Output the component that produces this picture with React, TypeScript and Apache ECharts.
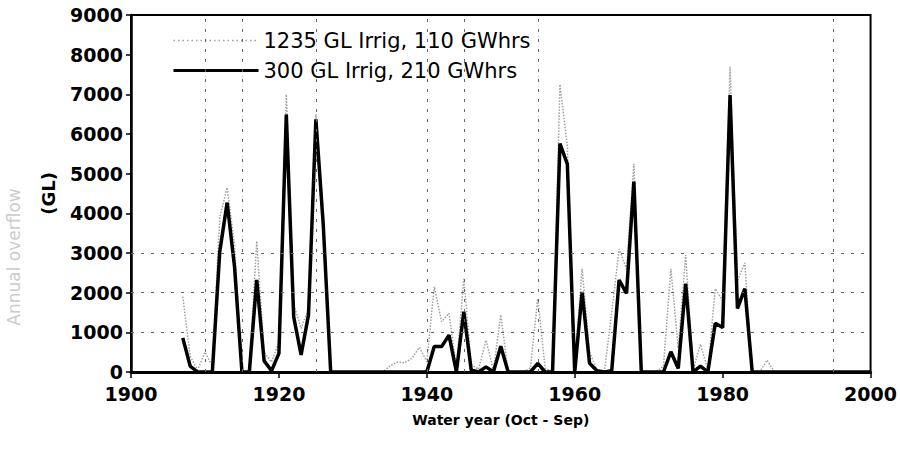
import React, { useEffect, useRef } from "react";
import * as echarts from "echarts";

const START_YEAR = 1900;

// 1235 GL Irrig, 110 GWhrs (grey dotted) — annual overflow (GL), 1900..2000
const irrig1235: (number | null)[] = [
  null, null, null, null, null, null, null, 1900, 400, 50, // 1900s
  500, 150, 3900, 4650, 3200, 0, 0, 3300, 500, 250, // 1910s
  750, 7000, 1700, 1100, 1600, 6500, 4000, 0, 0, 0, // 1920s
  0, 0, 0, 0, 0, 150, 250, 230, 350, 620, // 1930s
  260, 2150, 1270, 1480, 100, 2350, 190, 70, 800, 50, // 1940s
  1440, 0, 0, 0, 100, 1850, 100, 0, 7250, 5700, // 1950s
  200, 2600, 500, 50, 0, 1500, 3100, 2600, 5250, 0, // 1960s
  0, 0, 150, 2600, 600, 2950, 50, 700, 50, 2100, // 1970s
  1800, 7700, 2300, 2750, 0, 0, 300, 0, 0, 0, // 1980s
  0, 0, 0, 0, 0, 0, 0, 0, 0, 0, 0, // 1990s + 2000
];

// 300 GL Irrig, 210 GWhrs (black solid)
const irrig300: (number | null)[] = [
  null, null, null, null, null, null, null, 860, 150, 0, // 1900s
  0, 0, 3030, 4270, 2650, 0, 0, 2320, 280, 30, // 1910s
  470, 6490, 1390, 430, 1440, 6370, 3700, 0, 0, 0, // 1920s
  0, 0, 0, 0, 0, 0, 0, 0, 0, 0, // 1930s
  0, 640, 640, 930, 0, 1520, 50, 0, 130, 0, // 1940s
  650, 0, 0, 0, 0, 220, 0, 0, 5760, 5240, // 1950s
  0, 2020, 220, 30, 0, 30, 2320, 1980, 4800, 0, // 1960s
  0, 0, 0, 510, 90, 2230, 0, 150, 0, 1230, // 1970s
  1120, 6980, 1600, 2100, 0, 0, 0, 0, 0, 0, // 1980s
  0, 0, 0, 0, 0, 0, 0, 0, 0, 0, 0, // 1990s + 2000
];

const seriesNames = ["1235 GL Irrig, 110 GWhrs", "300 GL Irrig, 210 GWhrs"];
const hGridValues = [1000, 2000, 3000];
const vGridYears = [1910, 1915, 1925, 1940, 1945, 1955, 1995];

const FONT = "DejaVu Sans";
const GREY = "#a0a0a0";

function toPairs(arr: (number | null)[]) {
  return arr.map((v, i) => [START_YEAR + i, v]);
}

export default function App() {
  const ref = useRef<HTMLDivElement>(null);
  useEffect(() => {
    const chart = echarts.init(ref.current!, null, { renderer: "svg" });
    const gridLine = { color: "#666", width: 1, type: [3, 7] as any };
    chart.setOption({
      animation: false,
      backgroundColor: "#fff",
      grid: {
        left: 131,
        right: 28,
        top: 15,
        bottom: 89,
        show: true,
        borderColor: "#000",
        borderWidth: 2,
      },
      legend: {
        data: [
          { name: seriesNames[0], itemStyle: { opacity: 0 }, lineStyle: { color: GREY, width: 1.5, type: [1.5, 3] } },
          { name: seriesNames[1], itemStyle: { opacity: 0 }, lineStyle: { color: "#000", width: 3 } },
        ],
        orient: "vertical",
        left: 172,
        top: 30,
        padding: 0,
        itemWidth: 85,
        itemHeight: 14,
        itemGap: 9,
        textStyle: { fontFamily: FONT, fontSize: 21, color: "#000" },
      },
      xAxis: {
        type: "value",
        min: 1900,
        max: 2000,
        interval: 20,
        name: "Water year (Oct - Sep)",
        nameLocation: "middle",
        nameGap: 41,
        nameTextStyle: { fontFamily: FONT, fontSize: 14, fontWeight: "bold", color: "#000" },
        axisLine: { show: true, onZero: false, lineStyle: { color: "#000", width: 3 } },
        axisTick: { show: true, length: 6, lineStyle: { color: "#000", width: 1.5 } },
        axisLabel: {
          margin: 12,
          fontFamily: FONT,
          fontSize: 19,
          fontWeight: "bold",
          color: "#000",
          formatter: (v: number) => String(v),
        },
        splitLine: { show: false },
      },
      yAxis: {
        type: "value",
        min: 0,
        max: 9000,
        interval: 1000,
        name: "(GL)",
        nameLocation: "middle",
        nameRotate: 90,
        nameGap: 74,
        nameTextStyle: { fontFamily: FONT, fontSize: 18, fontWeight: "bold", color: "#000" },
        axisLine: { show: true, lineStyle: { color: "#000", width: 2.5 } },
        axisTick: { show: true, length: 5, lineStyle: { color: "#000", width: 1.5 } },
        axisLabel: {
          margin: 8,
          fontFamily: FONT,
          fontSize: 19,
          fontWeight: "bold",
          color: "#000",
          formatter: (v: number) => String(v),
        },
        splitLine: { show: false },
      },
      graphic: [
        {
          type: "text",
          x: 14,
          y: 257,
          rotation: Math.PI / 2,
          style: {
            text: "Annual overflow",
            fontFamily: FONT,
            fontSize: 17,
            fill: "#cccccc",
            textAlign: "center",
            textVerticalAlign: "middle",
          },
        },
      ],
      series: [
        {
          name: seriesNames[0],
          type: "line",
          data: toPairs(irrig1235),
          symbol: "none",
          z: 2,
          lineStyle: { color: GREY, width: 1.5, type: [1.5, 1.5] },
          itemStyle: { color: GREY },
          markLine: {
            silent: true,
            symbol: "none",
            label: { show: false },
            lineStyle: gridLine,
            data: [
              ...hGridValues.map((v) => ({ yAxis: v })),
              ...vGridYears.map((yr) => ({ xAxis: yr })),
            ],
          },
        },
        {
          name: seriesNames[1],
          type: "line",
          data: toPairs(irrig300),
          symbol: "none",
          z: 3,
          lineStyle: { color: "#000", width: 3.5 },
          itemStyle: { color: "#000" },
        },
      ],
    });
    return () => chart.dispose();
  }, []);
  return (
    <div
      ref={ref}
      style={{ position: "absolute", left: 0, top: 0, width: 900, height: 461 }}
    />
  );
}
